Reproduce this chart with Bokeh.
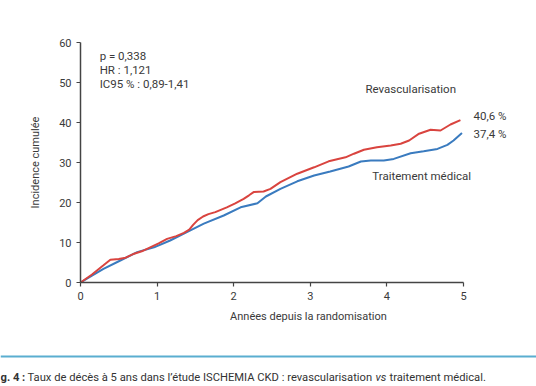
from bokeh.plotting import figure
from bokeh.models import Label, Range1d, FixedTicker, Span
from bokeh.layouts import column
from bokeh.embed import file_html
from bokeh.resources import INLINE

# Data
revasc_years = [0, 0.15, 0.30, 0.39, 0.50, 0.59, 0.70, 0.80, 0.91, 1.02, 1.13, 1.25, 1.35,
                1.42, 1.47, 1.53, 1.60, 1.67, 1.76, 1.91, 2.02, 2.13, 2.20, 2.26, 2.39, 2.48,
                2.61, 2.83, 3.05, 3.24, 3.46, 3.57, 3.70, 3.87, 4.05, 4.18, 4.29, 4.42,
                4.57, 4.70, 4.83, 4.96]
revasc_values = [0, 2.0, 4.3, 5.7, 5.9, 6.2, 7.2, 7.8, 8.8, 9.8, 10.9, 11.6, 12.4,
                 13.2, 14.4, 15.6, 16.5, 17.1, 17.6, 18.8, 19.8, 20.9, 21.8, 22.6, 22.75, 23.4,
                 25.1, 27.2, 28.8, 30.3, 31.3, 32.2, 33.2, 33.8, 34.25, 34.7, 35.5, 37.2,
                 38.2, 38.0, 39.5, 40.6]
medical_years = [0, 0.15, 0.30, 0.52, 0.74, 0.96, 1.17, 1.35, 1.61, 1.87, 2.09, 2.31,
                 2.42, 2.61, 2.83, 3.05, 3.26, 3.50, 3.66, 3.79, 3.96, 4.09, 4.31, 4.48,
                 4.66, 4.79, 4.87, 4.98]
medical_values = [0, 1.7, 3.4, 5.5, 7.6, 8.8, 10.5, 12.2, 14.7, 16.75, 18.8, 19.8,
                  21.5, 23.4, 25.3, 26.75, 27.75, 29.0, 30.25, 30.5, 30.5, 30.9, 32.3, 32.8,
                  33.4, 34.4, 35.5, 37.4]
x_ticks = [0, 1, 2, 3, 4, 5]
y_ticks = [0, 10, 20, 30, 40, 50, 60]
stats_lines = ["p = 0,338", "HR : 1,121", "IC95 % : 0,89-1,41"]
series_names = ["Revascularisation", "Traitement médical"]
end_labels = ["40,6 %", "37,4 %"]
caption_bold = "g. 4 :"
caption_parts = ["Taux de décès à 5 ans dans l’étude ISCHEMIA CKD : revascularisation", "vs",
                 "traitement médical."]

FONT = "Roboto"
TXT = "#3a3a3a"
RED = "#d9443f"
BLUE = "#3a7bbf"
W = 536

# main chart: frame from x=80..(right edge), y=42..282
p = figure(width=W, height=346, output_backend="svg", toolbar_location=None,
           x_range=Range1d(0, 5 + 73 / 76.6), y_range=Range1d(0, 60),
           min_border_left=80, min_border_right=0, min_border_top=42, min_border_bottom=64)
p.outline_line_color = None
p.grid.grid_line_color = None
p.xaxis.bounds = (0, 5)
p.yaxis.bounds = (0, 60)
p.frame_align = False

for ax in (p.xaxis, p.yaxis):
    ax.axis_line_color = "#444444"
    ax.axis_line_width = 1.5
    ax.major_tick_line_color = "#444444"
    ax.major_tick_line_width = 1.2
    ax.major_tick_out = 4
    ax.major_tick_in = 0
    ax.minor_tick_line_color = None
    ax.major_label_text_font = FONT
    ax.major_label_text_font_size = "11px"
    ax.major_label_text_color = TXT
    ax.axis_label_text_font = FONT
    ax.axis_label_text_font_size = "11px"
    ax.axis_label_text_font_style = "normal"
    ax.axis_label_text_color = TXT

p.xaxis.ticker = FixedTicker(ticks=x_ticks)
p.yaxis.ticker = FixedTicker(ticks=y_ticks)
p.xaxis.major_label_standoff = 5
p.yaxis.major_label_standoff = 5
p.xaxis.axis_label = "Années depuis la randomisation"
p.yaxis.axis_label = "Incidence cumulée"
p.xaxis.axis_label_standoff = 7
p.yaxis.axis_label_standoff = 14

p.line(medical_years, medical_values, line_color=BLUE, line_width=2)
p.line(revasc_years, revasc_values, line_color=RED, line_width=2)

def lab(x, y, text, **kw):
    p.add_layout(Label(x=x, y=y, text=text, text_font=FONT, text_font_size="11.5px",
                       text_color=TXT, text_baseline="middle", **kw))

for i, t in enumerate(stats_lines):
    lab(0.25, 56.75 - i * 3.6, t)
lab(3.72, 48.5, series_names[0])
lab(3.81, 26.75, series_names[1])
lab(5.13, 41.75, end_labels[0])
lab(5.13, 37.25, end_labels[1])

# caption strip: separator line + caption
c = figure(width=W, height=40, output_backend="svg", toolbar_location=None,
           x_range=Range1d(0, W), y_range=Range1d(40, 0),
           min_border=0, min_border_left=0, min_border_right=0,
           min_border_top=0, min_border_bottom=0)
c.frame_align = False
c.axis.visible = False
c.grid.grid_line_color = None
c.outline_line_color = None
c.add_layout(Span(location=10, dimension="width", line_color="#5aaed0", line_width=2))

def cap(x, text, style="normal"):
    c.add_layout(Label(x=x, y=31, text=text, text_font=FONT, text_font_size="11.2px",
                       text_font_style=style, text_color="#333333",
                       text_baseline="alphabetic"))

cap(0, caption_bold, "bold")
cap(27, caption_parts[0])
cap(375, caption_parts[1], "italic")
cap(389, caption_parts[2])

layout = column(p, c, spacing=0)
open("out.html", "w").write(file_html(layout, INLINE))
